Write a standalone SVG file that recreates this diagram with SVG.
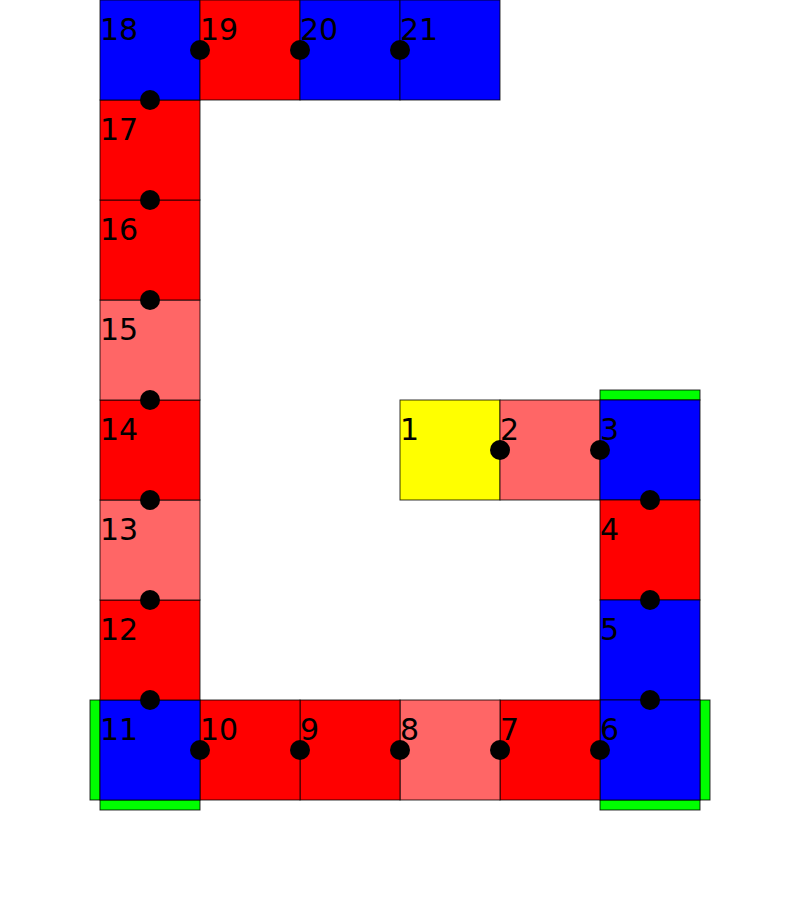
<svg xmlns="http://www.w3.org/2000/svg" width="800" height="900" viewBox="0 0 800 900">
<style>
.c{stroke:#000;stroke-width:1;stroke-opacity:0.8}
.y{fill:#ffff00}.r{fill:#ff0000}.p{fill:#ff6666}.b{fill:#0000ff}.g{fill:#00ff00}
text{font-family:"DejaVu Sans",sans-serif;font-size:30px;fill:#000}
.d{fill:#000}
</style>
<rect width="800" height="900" fill="#fff"/>
<g id="bars">
<rect class="c g" x="600" y="390" width="100" height="10"/>
<rect class="c g" x="700" y="700" width="10" height="100"/>
<rect class="c g" x="600" y="800" width="100" height="10"/>
<rect class="c g" x="90" y="700" width="10" height="100"/>
<rect class="c g" x="100" y="800" width="100" height="10"/>
</g>
<g id="n1"><rect class="c y" x="400" y="400" width="100" height="100"/><text x="400" y="440">1</text></g>
<g id="n2"><rect class="c p" x="500" y="400" width="100" height="100"/><text x="500" y="440">2</text></g>
<g id="n3"><rect class="c b" x="600" y="400" width="100" height="100"/><text x="600" y="440">3</text></g>
<g id="n4"><rect class="c r" x="600" y="500" width="100" height="100"/><text x="600" y="540">4</text></g>
<g id="n5"><rect class="c b" x="600" y="600" width="100" height="100"/><text x="600" y="640">5</text></g>
<g id="n6"><rect class="c b" x="600" y="700" width="100" height="100"/><text x="600" y="740">6</text></g>
<g id="n7"><rect class="c r" x="500" y="700" width="100" height="100"/><text x="500" y="740">7</text></g>
<g id="n8"><rect class="c p" x="400" y="700" width="100" height="100"/><text x="400" y="740">8</text></g>
<g id="n9"><rect class="c r" x="300" y="700" width="100" height="100"/><text x="300" y="740">9</text></g>
<g id="n10"><rect class="c r" x="200" y="700" width="100" height="100"/><text x="200" y="740">10</text></g>
<g id="n11"><rect class="c b" x="100" y="700" width="100" height="100"/><text x="100" y="740">11</text></g>
<g id="n12"><rect class="c r" x="100" y="600" width="100" height="100"/><text x="100" y="640">12</text></g>
<g id="n13"><rect class="c p" x="100" y="500" width="100" height="100"/><text x="100" y="540">13</text></g>
<g id="n14"><rect class="c r" x="100" y="400" width="100" height="100"/><text x="100" y="440">14</text></g>
<g id="n15"><rect class="c p" x="100" y="300" width="100" height="100"/><text x="100" y="340">15</text></g>
<g id="n16"><rect class="c r" x="100" y="200" width="100" height="100"/><text x="100" y="240">16</text></g>
<g id="n17"><rect class="c r" x="100" y="100" width="100" height="100"/><text x="100" y="140">17</text></g>
<g id="n18"><rect class="c b" x="100" y="0" width="100" height="100"/><text x="100" y="40">18</text></g>
<g id="n19"><rect class="c r" x="200" y="0" width="100" height="100"/><text x="200" y="40">19</text></g>
<g id="n20"><rect class="c b" x="300" y="0" width="100" height="100"/><text x="300" y="40">20</text></g>
<g id="n21"><rect class="c b" x="400" y="0" width="100" height="100"/><text x="400" y="40">21</text></g>
<g id="connectors">
<circle class="d" cx="500" cy="450" r="10"/>
<circle class="d" cx="600" cy="450" r="10"/>
<circle class="d" cx="650" cy="500" r="10"/>
<circle class="d" cx="650" cy="600" r="10"/>
<circle class="d" cx="650" cy="700" r="10"/>
<circle class="d" cx="600" cy="750" r="10"/>
<circle class="d" cx="500" cy="750" r="10"/>
<circle class="d" cx="400" cy="750" r="10"/>
<circle class="d" cx="300" cy="750" r="10"/>
<circle class="d" cx="200" cy="750" r="10"/>
<circle class="d" cx="150" cy="700" r="10"/>
<circle class="d" cx="150" cy="600" r="10"/>
<circle class="d" cx="150" cy="500" r="10"/>
<circle class="d" cx="150" cy="400" r="10"/>
<circle class="d" cx="150" cy="300" r="10"/>
<circle class="d" cx="150" cy="200" r="10"/>
<circle class="d" cx="150" cy="100" r="10"/>
<circle class="d" cx="200" cy="50" r="10"/>
<circle class="d" cx="300" cy="50" r="10"/>
<circle class="d" cx="400" cy="50" r="10"/>
</g>
</svg>
